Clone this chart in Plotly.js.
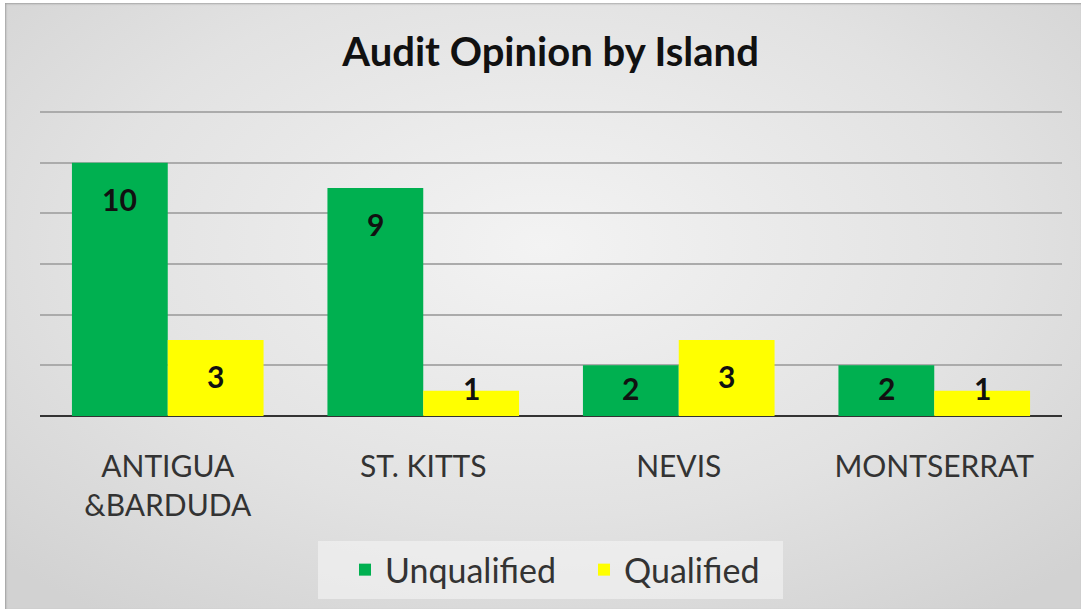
<!DOCTYPE html>
<html>
<head>
<meta charset="utf-8">
<script src="https://cdn.plot.ly/plotly-3.0.1.min.js"></script>
<style>
html,body{margin:0;padding:0;background:#fff;}
#bg{position:absolute;left:5px;top:3px;width:1076px;height:606px;
background:radial-gradient(ellipse 70% 75% at 50% 40%, #f3f3f3 0%, #e2e2e2 60%, #d2d2d2 100%);
box-shadow: inset 1px 1px 2px rgba(0,0,0,0.25);}
#chart{position:absolute;left:0;top:0;width:1086px;height:613px;}
</style>
</head>
<body>
<div id="bg"></div>
<div id="chart"></div>
<script>
const categories = ["ANTIGUA<br>&BARDUDA", "ST. KITTS", "NEVIS", "MONTSERRAT"];
const unqualified = [10, 9, 2, 2];
const qualified = [3, 1, 3, 1];
const seriesNames = ["Unqualified", "Qualified"];
const titleText = "Audit Opinion by Island";

const FONT = "Lato, 'Open Sans', sans-serif";
const BARGAP = 0.25;
const Y_MAX = 12.04;

const traces = [
  {type: "bar", name: seriesNames[0], x: categories, y: unqualified,
   marker: {color: "#00B050"}, hoverinfo: "none"},
  {type: "bar", name: seriesNames[1], x: categories, y: qualified,
   marker: {color: "#FFFF00"}, hoverinfo: "none"}
];

// value labels: "inside end" placement, lifted when the bar is too short
const annotations = [];
[unqualified, qualified].forEach((vals, s) => {
  vals.forEach((v, i) => {
    annotations.push({
      xref: "x", yref: "y",
      x: i + (s === 0 ? -1 : 1) * (1 - BARGAP) / 4,
      y: Math.max(v - 1.42, 1.12),
      text: "<b>" + v + "</b>", showarrow: false,
      xanchor: "center", yanchor: "middle",
      font: {family: FONT, size: 30, color: "#111"}
    });
  });
});

const layout = {
  width: 1086, height: 613,
  paper_bgcolor: "rgba(0,0,0,0)", plot_bgcolor: "rgba(0,0,0,0)",
  margin: {l: 40, r: 24, t: 111, b: 197},
  title: {text: "<b>" + titleText + "</b>", x: 0.507, xanchor: "center", y: 0.915, yanchor: "middle",
          font: {family: FONT, size: 40, color: "#111"}},
  barmode: "group", bargap: BARGAP, bargroupgap: 0,
  showlegend: true,
  legend: {orientation: "h", x: (345 - 40) / 1022, xanchor: "left", y: -0.41, yanchor: "top",
           bgcolor: "rgba(0,0,0,0)", entrywidth: 194, entrywidthmode: "pixels",
           font: {family: FONT, size: 34, color: "#333"}},
  shapes: [{type: "rect", xref: "paper", yref: "paper", layer: "below",
            x0: (318 - 40) / 1022, x1: (783 - 40) / 1022, y0: -0.41, y1: -0.60,
            fillcolor: "rgba(245,245,245,0.6)", line: {width: 0}}],
  annotations: annotations,
  xaxis: {type: "category", showgrid: false, zeroline: false, showline: false,
          ticks: "outside", ticklen: 24, tickcolor: "rgba(0,0,0,0)",
          tickfont: {family: FONT, size: 30, color: "#333"}},
  yaxis: {range: [0, Y_MAX], dtick: 2, showticklabels: false, showgrid: true,
          gridcolor: "#ababab", gridwidth: 2, zeroline: true, zerolinecolor: "#333",
          zerolinewidth: 2.5, fixedrange: true}
};

Plotly.newPlot("chart", traces, layout, {staticPlot: true, displayModeBar: false});
</script>
</body>
</html>
